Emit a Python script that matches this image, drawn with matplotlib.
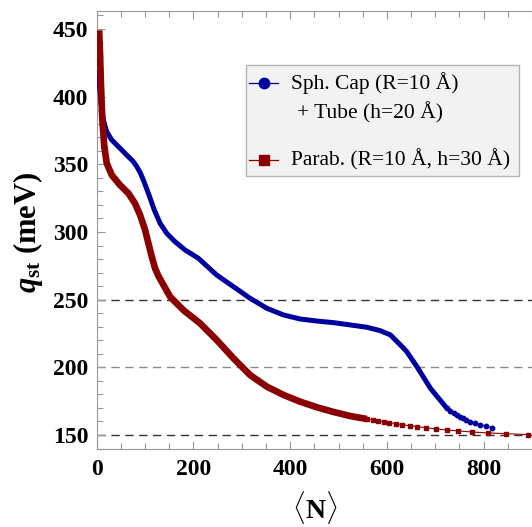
import matplotlib
matplotlib.use("Agg")
import matplotlib.pyplot as plt
from matplotlib.lines import Line2D
from matplotlib.patches import Rectangle
from matplotlib.ticker import MultipleLocator

plt.rcParams['font.family'] = ['Liberation Serif', 'DejaVu Serif']
plt.rcParams['mathtext.fontset'] = 'custom'
plt.rcParams['mathtext.rm'] = 'Liberation Serif:bold'
plt.rcParams['mathtext.it'] = 'Liberation Serif:bold:italic'
plt.rcParams['mathtext.bf'] = 'Liberation Serif:bold'

# Spherical cap + tube (blue) -- dense part
blue_N = [3, 4.8, 8.9, 13.7, 20.7, 31, 48, 65.4, 75, 82.8, 90, 96.4, 106.8, 119, 131,
          144.8, 162, 182.7, 210, 248, 282.6, 317, 351.8, 386, 420.6, 455, 489.6, 524,
          558.6, 586, 607, 628, 641, 662, 690, 724]
blue_q = [418, 412.3, 395, 382.8, 374, 368, 361.9, 355.6, 352.3, 348.3, 343.8, 338.4,
          328.6, 316.3, 306.4, 299, 292.8, 286.7, 280.6, 268.2, 259.6, 251, 243.6,
          238.7, 235.7, 234.2, 233, 231.3, 229.6, 227.1, 224, 216.5, 211.6, 200.5,
          184.5, 169.7]
# blue tail (separate markers)
blue_tail_N = [724, 731, 738, 745, 752, 758, 764, 772, 783, 792, 804, 817]
blue_tail_q = [169.7, 167.8, 166.2, 164.8, 163.5, 162.3, 161.1, 159.8, 158.6, 157.6,
               156.7, 155.4]

# Paraboloid (red) -- dense part
red_N = [5, 6.8, 8.9, 11.6, 15.7, 20.7, 31, 48, 65.4, 79, 89.6, 100, 106.8, 113.8,
         120.6, 127.5, 152, 180, 213.7, 248, 282.6, 317, 351.8, 386, 420.6, 455,
         489.6, 524, 558.6]
red_q = [449, 432, 407.4, 382.8, 363, 350.8, 342.1, 334.7, 328.6, 321.2, 312.6,
         301.5, 291.7, 281.8, 273.2, 267.5, 252, 242, 232.5, 220.2, 206.7, 194.3,
         185.7, 179.6, 174.6, 170.5, 167, 164, 161.8]
# red tail (separate markers)
red_tail_N = [558.6, 571, 582, 593, 605, 619, 632, 647, 663, 681, 702, 724, 748, 776,
              808, 847, 892]
red_tail_q = [161.8, 161.2, 160.6, 159.8, 159.1, 158.4, 157.6, 156.9, 156.1, 155.4,
              154.4, 153.7, 153.0, 152.2, 151.5, 151.0, 150.2]

ref_levels = [150, 200, 250]
ref_colors = ['#333333', '#8a8a8a', '#333333']

legend_labels = ['Sph. Cap (R=10 Å)', '+ Tube (h=20 Å)', 'Parab. (R=10 Å, h=30 Å)']

BLUE = '#0000a0'
RED = '#8b0000'
W, H = 532, 527

fig = plt.figure(figsize=(W / 100, H / 100), dpi=100)
ax = fig.add_axes([0.1818, 0.1474, 0.8182, 0.8323])

for lev, c in zip(ref_levels, ref_colors):
    ax.axhline(lev, color=c, lw=1.0, dashes=(6, 4), zorder=1)

ax.plot(blue_N, blue_q, color=BLUE, lw=3.6, solid_capstyle='round',
        solid_joinstyle='round', zorder=3)
ax.plot(blue_tail_N, blue_tail_q, color=BLUE, lw=0.8, marker='o', ms=3.2, zorder=3)
ax.plot(red_N, red_q, color=RED, lw=4.8, solid_capstyle='butt',
        solid_joinstyle='round', zorder=4)
ax.plot(red_tail_N, red_tail_q, color=RED, lw=0.8, marker='s', ms=3.5, zorder=4)

ax.set_xlim(0, 900)
ax.set_ylim(139.4, 463.5)
ax.xaxis.set_major_locator(MultipleLocator(200))
ax.xaxis.set_minor_locator(MultipleLocator(50))
ax.yaxis.set_major_locator(MultipleLocator(50))
ax.yaxis.set_minor_locator(MultipleLocator(10))
ax.tick_params(which='both', direction='in', color='#999999', top=True, right=False,
               labelsize=17)
ax.tick_params(axis='x', pad=7)
ax.tick_params(axis='y', pad=6)
ax.tick_params(which='major', length=6, width=0.8)
ax.tick_params(which='minor', length=4, width=0.8)
for lab in ax.get_xticklabels() + ax.get_yticklabels():
    lab.set_fontweight('bold')
for s in ['left', 'bottom', 'top']:
    ax.spines[s].set_color('#999999')
ax.spines['right'].set_visible(False)

fig.text(315 / W, 1 - 508 / H, r'$\langle\mathrm{N}\rangle$', fontsize=20,
         ha='center', va='center')
fig.text(28 / W, 1 - 232 / H, r'$q_{\mathrm{st}}$ (meV)', fontsize=22,
         fontweight='bold', ha='center', va='center', rotation=90)

# legend (drawn manually to match the layout of the original)
def fx(x):
    return x / W

def fy(y):
    return 1 - y / H

fig.add_artist(Rectangle((fx(246), fy(176)), (519 - 246) / W, (176 - 65) / H,
                         transform=fig.transFigure, facecolor='#f2f2f2',
                         edgecolor='#b5b5b5', lw=1.0, zorder=5))
for y, c, m in [(83, BLUE, 'o'), (160, RED, 's')]:
    fig.add_artist(Line2D([fx(249), fx(278)], [fy(y), fy(y)], color=c, lw=0.9,
                          transform=fig.transFigure, zorder=6))
    fig.add_artist(Line2D([fx(263.5)], [fy(y)], color=c, marker=m, ms=7.5,
                          transform=fig.transFigure, zorder=6))
for (x, y), t in zip([(290.7, 83), (297.3, 113), (290.7, 160)], legend_labels):
    fig.text(fx(x), fy(y), t, fontsize=15.5, ha='left', va='center', zorder=7,
             family='Liberation Serif')

fig.savefig('out.png', dpi=100)
